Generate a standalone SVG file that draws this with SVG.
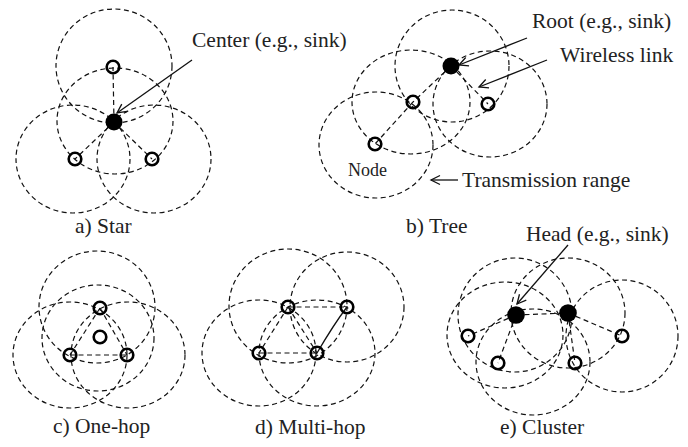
<svg xmlns="http://www.w3.org/2000/svg" width="688" height="447" viewBox="0 0 688 447">
  <style>
    .range { fill: none; stroke: #111; stroke-width: 1.2; stroke-dasharray: 5 3.5; }
    .link { fill: none; stroke: #111; stroke-width: 1.2; stroke-dasharray: 5 3.5; }
    .solid { fill: none; stroke: #111; stroke-width: 1.3; }
    .node { fill: none; stroke: #000; stroke-width: 2.6; }
    .sink { fill: #000; stroke: none; }
    .pointer { fill: none; stroke: #111; stroke-width: 1.3; marker-end: url(#open); }
    text { font-family: "Liberation Serif", "Times New Roman", serif; font-size: 21.5px; fill: #222; }
    .small { font-size: 18px; }
  </style>
  <defs>
    <marker id="open" markerUnits="userSpaceOnUse" markerWidth="14" markerHeight="12" refX="10" refY="6" orient="auto" viewBox="0 0 14 12">
      <path d="M1,1.5 L10,6 L1,10.5" fill="none" stroke="#111" stroke-width="1.3"/>
    </marker>
  </defs>
  <rect width="688" height="447" fill="#fff"/>

  <!-- transmission ranges -->
  <g id="ranges">
    <!-- a) star -->
    <ellipse class="range" cx="114" cy="66" rx="58" ry="57"/>
    <ellipse class="range" cx="115" cy="121" rx="58" ry="53"/>
    <ellipse class="range" cx="73" cy="159" rx="57" ry="54"/>
    <ellipse class="range" cx="154" cy="159" rx="57" ry="54"/>
    <!-- b) tree -->
    <ellipse class="range" cx="452" cy="66" rx="57" ry="56"/>
    <ellipse class="range" cx="411" cy="102" rx="59" ry="52"/>
    <ellipse class="range" cx="376" cy="145" rx="57" ry="53"/>
    <ellipse class="range" cx="490" cy="104" rx="57" ry="53"/>
    <!-- c) one-hop -->
    <ellipse class="range" cx="97" cy="307" rx="58" ry="56"/>
    <ellipse class="range" cx="98" cy="338" rx="56" ry="53"/>
    <ellipse class="range" cx="70" cy="355" rx="57" ry="53"/>
    <ellipse class="range" cx="128" cy="355" rx="57" ry="53"/>
    <!-- d) multi-hop -->
    <ellipse class="range" cx="288" cy="306" rx="59" ry="57"/>
    <ellipse class="range" cx="347" cy="307" rx="57" ry="55"/>
    <ellipse class="range" cx="259" cy="353" rx="57" ry="53"/>
    <ellipse class="range" cx="317" cy="353" rx="58" ry="53"/>
    <!-- e) cluster -->
    <ellipse class="range" cx="515" cy="315" rx="57" ry="57"/>
    <ellipse class="range" cx="568" cy="313" rx="57" ry="55"/>
    <ellipse class="range" cx="505" cy="335" rx="58" ry="53"/>
    <ellipse class="range" cx="533" cy="362" rx="57" ry="53"/>
    <ellipse class="range" cx="622" cy="336" rx="56" ry="56"/>
  </g>

  <!-- links between nodes and label pointers -->
  <g id="connectors">
    <!-- a) star -->
    <line class="link" x1="114" y1="122" x2="113" y2="67"/>
    <line class="link" x1="114" y1="122" x2="75" y2="159"/>
    <line class="link" x1="114" y1="122" x2="152" y2="159"/>
    <!-- b) tree -->
    <line class="link" x1="451" y1="66" x2="413" y2="102"/>
    <line class="link" x1="413" y1="102" x2="375" y2="144"/>
    <line class="link" x1="451" y1="66" x2="488" y2="104"/>
    <!-- c) one-hop -->
    <line class="link" x1="100" y1="308" x2="70" y2="355"/>
    <line class="link" x1="100" y1="308" x2="127" y2="355"/>
    <line class="link" x1="70" y1="355" x2="127" y2="355"/>
    <!-- d) multi-hop -->
    <line class="link" x1="288" y1="307" x2="347" y2="307"/>
    <line class="link" x1="288" y1="307" x2="259" y2="353"/>
    <line class="link" x1="288" y1="307" x2="317" y2="353"/>
    <line class="link" x1="259" y1="353" x2="317" y2="353"/>
    <path class="solid" d="M347,307 Q334,324 317,353"/>
    <!-- e) cluster -->
    <line class="link" x1="516" y1="315" x2="468" y2="336"/>
    <line class="link" x1="516" y1="315" x2="498" y2="363"/>
    <line class="link" x1="516" y1="315" x2="568" y2="313"/>
    <line class="link" x1="568" y1="313" x2="575" y2="363"/>
    <line class="link" x1="568" y1="313" x2="622" y2="336"/>
    <!-- label pointers -->
    <line class="pointer" x1="192" y1="60" x2="117" y2="113"/>
    <line class="pointer" x1="527" y1="38" x2="459" y2="65"/>
    <line class="pointer" x1="547" y1="60" x2="479" y2="87"/>
    <line class="pointer" x1="458" y1="180" x2="431" y2="180"/>
    <line class="pointer" x1="568" y1="245" x2="517" y2="304"/>
  </g>

  <!-- a) star nodes -->
  <g id="star-center"><circle class="sink" cx="114" cy="122" r="8.5"/></g>
  <g id="star-n1"><circle class="node" cx="113" cy="67" r="6.3"/></g>
  <g id="star-n2"><circle class="node" cx="75" cy="159" r="6.3"/></g>
  <g id="star-n3"><circle class="node" cx="152" cy="159" r="6.3"/></g>

  <!-- b) tree nodes -->
  <g id="tree-root"><circle class="sink" cx="451" cy="66" r="8.5"/></g>
  <g id="tree-n1"><circle class="node" cx="413" cy="102" r="6.3"/></g>
  <g id="tree-n2"><circle class="node" cx="375" cy="144" r="6.3"/></g>
  <g id="tree-n3"><circle class="node" cx="488" cy="104" r="6.3"/></g>

  <!-- c) one-hop nodes -->
  <g id="onehop-n1"><circle class="node" cx="100" cy="308" r="6.3"/></g>
  <g id="onehop-n2"><circle class="node" cx="100" cy="337" r="6.3"/></g>
  <g id="onehop-n3"><circle class="node" cx="70" cy="355" r="6.3"/></g>
  <g id="onehop-n4"><circle class="node" cx="127" cy="355" r="6.3"/></g>

  <!-- d) multi-hop nodes -->
  <g id="multihop-n1"><circle class="node" cx="288" cy="307" r="6.3"/></g>
  <g id="multihop-n2"><circle class="node" cx="347" cy="307" r="6.3"/></g>
  <g id="multihop-n3"><circle class="node" cx="259" cy="353" r="6.3"/></g>
  <g id="multihop-n4"><circle class="node" cx="317" cy="353" r="6.3"/></g>

  <!-- e) cluster nodes -->
  <g id="cluster-head1"><circle class="sink" cx="516" cy="315" r="8.8"/></g>
  <g id="cluster-head2"><circle class="sink" cx="568" cy="313" r="8.8"/></g>
  <g id="cluster-n1"><circle class="node" cx="468" cy="336" r="6.3"/></g>
  <g id="cluster-n2"><circle class="node" cx="498" cy="363" r="6.3"/></g>
  <g id="cluster-n3"><circle class="node" cx="575" cy="363" r="6.3"/></g>
  <g id="cluster-n4"><circle class="node" cx="622" cy="336" r="6.3"/></g>

  <!-- labels -->
  <g id="labels">
    <text x="192" y="47">Center (e.g., sink)</text>
    <text x="532" y="28">Root (e.g., sink)</text>
    <text x="560" y="62">Wireless link</text>
    <text x="462" y="187">Transmission range</text>
    <text class="small" x="348" y="176">Node</text>
    <text x="75" y="233">a) Star</text>
    <text x="406" y="233">b) Tree</text>
    <text x="526" y="241">Head (e.g., sink)</text>
    <text x="53" y="433">c) One-hop</text>
    <text x="255" y="434">d) Multi-hop</text>
    <text x="500" y="434">e) Cluster</text>
  </g>
</svg>
